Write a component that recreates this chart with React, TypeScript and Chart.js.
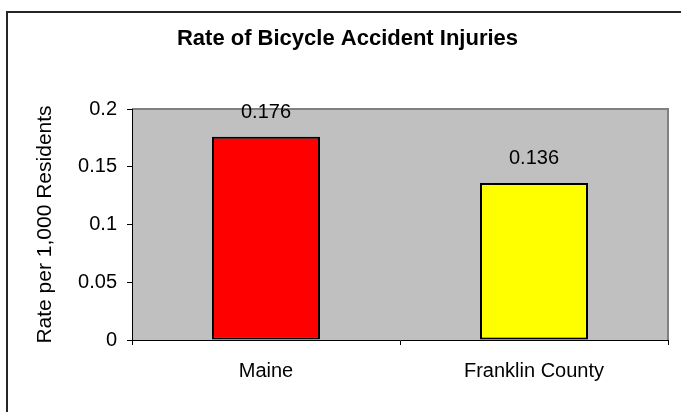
import React, { useEffect, useRef } from "react";
import { Chart, registerables } from "chart.js";

Chart.register(...registerables);

const categories: string[] = ["Maine", "Franklin County"];
const rates: number[] = [0.176, 0.136];
const valueLabels: string[] = ["0.176", "0.136"];
const barColors: string[] = ["#FF0000", "#FFFF00"];
const yTickLabels: string[] = ["0", "0.05", "0.1", "0.15", "0.2"];
const chartTitle = "Rate of Bicycle Accident Injuries";
const yAxisTitle = "Rate per 1,000 Residents";

const FONT = "'Liberation Sans', Arial, Helvetica, sans-serif";

export default function App() {
  const ref = useRef<HTMLCanvasElement | null>(null);

  useEffect(() => {
    document.body.style.margin = "0";
    const canvas = ref.current;
    if (!canvas) return;

    const decor = {
      id: "decor",
      beforeDraw(chart: any) {
        const { ctx, chartArea: a } = chart;
        ctx.save();
        ctx.fillStyle = "#FFFFFF";
        ctx.fillRect(0, 0, chart.width, chart.height);
        ctx.fillStyle = "#C0C0C0";
        ctx.fillRect(a.left, a.top, a.right - a.left, a.bottom - a.top);
        ctx.strokeStyle = "#808080";
        ctx.lineWidth = 2;
        ctx.beginPath();
        ctx.moveTo(a.left, a.top);
        ctx.lineTo(a.right, a.top);
        ctx.lineTo(a.right, a.bottom);
        ctx.stroke();
        ctx.restore();
      },
      afterDatasetsDraw(chart: any) {
        const { ctx } = chart;
        const meta = chart.getDatasetMeta(0);
        ctx.save();
        ctx.font = `20px ${FONT}`;
        ctx.fillStyle = "#000";
        ctx.textAlign = "center";
        ctx.textBaseline = "alphabetic";
        meta.data.forEach((bar: any, i: number) => {
          ctx.fillText(valueLabels[i], bar.x, bar.y - 19);
        });
        ctx.restore();
      },
      afterDraw(chart: any) {
        const { ctx } = chart;
        ctx.save();
        ctx.fillStyle = "#262626";
        ctx.fillRect(6, 11, 2, chart.height - 11);
        ctx.fillRect(6, 11, chart.width - 6, 2);
        ctx.restore();
      },
    };

    const chart = new Chart(canvas, {
      type: "bar",
      data: {
        labels: categories,
        datasets: [
          {
            data: rates,
            backgroundColor: barColors,
            borderColor: "#000000",
            borderWidth: 2,
            borderSkipped: false,
            barPercentage: 0.403,
            categoryPercentage: 1,
          },
        ],
      },
      options: {
        responsive: false,
        animation: false,
        devicePixelRatio: 1,
        layout: { padding: { left: 27, top: 0, right: 13, bottom: 0 } },
        plugins: {
          legend: { display: false },
          tooltip: { enabled: false },
          title: {
            display: true,
            text: chartTitle,
            color: "#000",
            font: { family: FONT, size: 22, weight: "bold", lineHeight: 1.2 },
            padding: { top: 26, bottom: 56.6 },
          },
        },
        scales: {
          x: {
            afterFit(scale: any) {
              scale.height = 72;
            },
            grid: {
              display: true,
              offset: true,
              drawOnChartArea: false,
              drawTicks: true,
              tickLength: 5,
              color: "#000",
            },
            border: { display: true, color: "#000", width: 1 },
            ticks: {
              color: "#000",
              padding: 14,
              font: { family: FONT, size: 20 },
              maxRotation: 0,
            },
          },
          y: {
            min: 0,
            max: 0.2,
            afterFit(scale: any) {
              scale.width = 105;
            },
            grid: {
              display: true,
              drawOnChartArea: false,
              drawTicks: true,
              tickLength: 5,
              color: "#000",
            },
            border: { display: true, color: "#000", width: 1 },
            ticks: {
              stepSize: 0.05,
              color: "#000",
              padding: 10,
              font: { family: FONT, size: 20 },
              callback: (_v: any, i: number) => yTickLabels[i],
            },
            title: {
              display: true,
              text: yAxisTitle,
              color: "#000",
              font: { family: FONT, size: 21, lineHeight: 1.2 },
              padding: { top: 5.4, bottom: 0 },
            },
          },
        },
      },
      plugins: [decor],
    });

    return () => chart.destroy();
  }, []);

  return (
    <div style={{ position: "absolute", left: 0, top: 0, width: 681, height: 412 }}>
      <canvas ref={ref} width={681} height={412} style={{ width: 681, height: 412, display: "block" }} />
    </div>
  );
}
